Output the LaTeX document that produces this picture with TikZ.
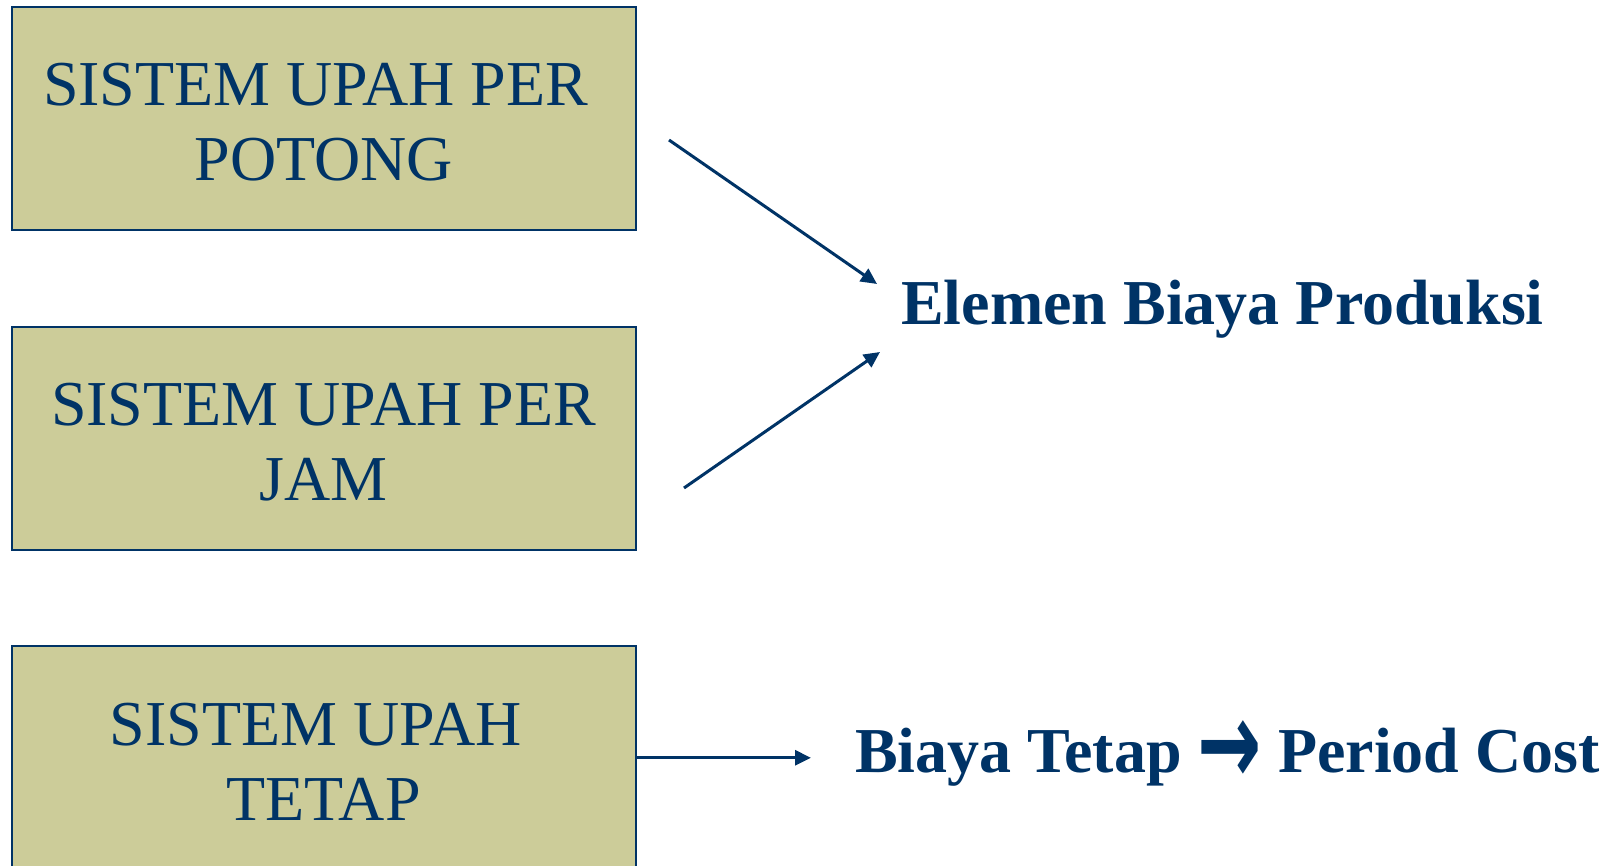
\documentclass[tikz,border=0pt]{standalone}
\usepackage{fontspec}
\setmainfont{Liberation Serif}
\newfontfamily\symfont{DejaVu Sans}
\usetikzlibrary{arrows.meta}
\definecolor{navy}{RGB}{0,51,102}
\definecolor{khaki}{RGB}{204,204,153}
\newcommand{\lowerby}{\rule{0pt}{50pt}}
\begin{document}
\begin{tikzpicture}[x=1pt,y=-1pt,
  sysbox/.style={draw=navy, fill=khaki, line width=2pt, minimum width=624pt, minimum height=223pt, inner sep=0pt, align=center, text=navy, font=\fontsize{64}{75}\selectfont},
  lbl/.style={text=navy, inner sep=0pt, anchor=base west, font=\fontsize{64}{75}\selectfont\bfseries},
  conn/.style={navy, line width=3pt, -{Triangle[length=16pt,width=15pt]}}]
\useasboundingbox (0,0) rectangle (1612,866);
\node[sysbox] (b1) at (323.7,118.8) {\lowerby SISTEM UPAH PER\hphantom{\ }\\POTONG};
\node[sysbox] (b2) at (323.7,438.8) {\lowerby SISTEM UPAH PER\\JAM};
\node[sysbox] (b3) at (323.7,757.8) {\lowerby SISTEM UPAH\hphantom{\ }\\TETAP};
\node[lbl] (l1) at (901,325) {Elemen Biaya Produksi};
\node[lbl] (l2) at (855,772.7) {Biaya Tetap {\symfont\bfseries\raisebox{-12pt}{\scalebox{1.2}[1.85]{→}}} Period Cost};
\coordinate (a1s) at (669,140);
\coordinate (a1e) at (877,284);
\coordinate (a2s) at (684,488);
\coordinate (a2e) at (880,352);
\coordinate (a3e) at (811,757.8);
\draw[conn] (a1s) -- (a1e);
\draw[conn] (a2s) -- (a2e);
\draw[conn] (b3.east) -- (a3e);
\end{tikzpicture}
\end{document}
